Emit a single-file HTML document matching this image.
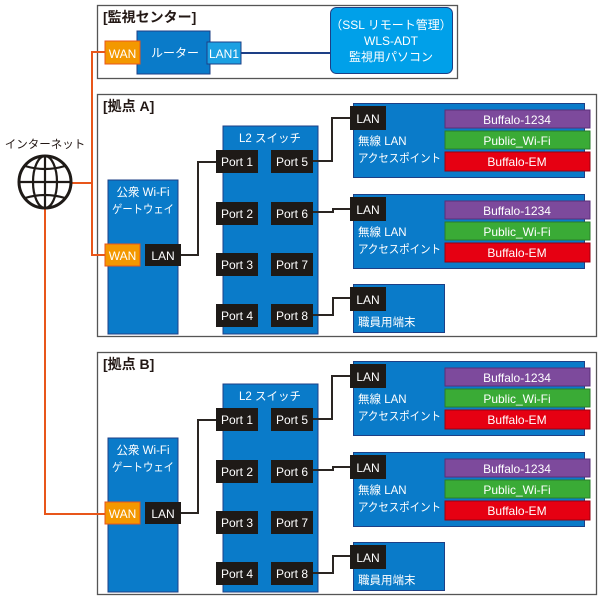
<!DOCTYPE html>
<html><head><meta charset="utf-8"><style>
html,body{margin:0;padding:0;background:#fff;}
svg{display:block;}
text{font-family:"Liberation Sans","Noto Sans CJK JP",sans-serif;}
</style></head><body>
<svg width="600" height="600" viewBox="0 0 600 600" xmlns="http://www.w3.org/2000/svg">
<defs>
<g id="site">
  <rect x="97.5" y="94.5" width="499" height="242" fill="#fff" stroke="#555" stroke-width="1.3"/>
  <rect x="108" y="180" width="70" height="154" fill="#0a7bc9" stroke="#1d3f86" stroke-width="1"/>
  <text x="143" y="196" font-size="11.5" fill="#fff" text-anchor="middle">公衆 Wi-Fi</text>
  <text x="143" y="213" font-size="11.5" fill="#fff" text-anchor="middle" textLength="62" lengthAdjust="spacingAndGlyphs">ゲートウェイ</text>
  <rect x="105" y="244" width="35" height="22" fill="#f39800" stroke="#e8561a" stroke-width="1"/>
  <text x="122.5" y="260" font-size="12" fill="#fff" text-anchor="middle">WAN</text>
  <rect x="145" y="244" width="36" height="22" fill="#1e1a17"/>
  <text x="163" y="260" font-size="12" fill="#fff" text-anchor="middle">LAN</text>
  <rect x="223" y="126" width="95" height="208" fill="#0a7bc9" stroke="#1d3f86" stroke-width="1"/>
  <text x="270" y="142" font-size="11.5" fill="#fff" text-anchor="middle">L2 スイッチ</text>
  <g font-size="12" fill="#fff" text-anchor="middle">
    <rect x="216" y="150" width="42" height="23" fill="#1e1a17"/><text x="237" y="166" fill="#fff">Port 1</text>
    <rect x="271" y="150" width="42" height="23" fill="#1e1a17"/><text x="292" y="166" fill="#fff">Port 5</text>
    <rect x="216" y="202" width="42" height="23" fill="#1e1a17"/><text x="237" y="218" fill="#fff">Port 2</text>
    <rect x="271" y="202" width="42" height="23" fill="#1e1a17"/><text x="292" y="218" fill="#fff">Port 6</text>
    <rect x="216" y="253" width="42" height="23" fill="#1e1a17"/><text x="237" y="269" fill="#fff">Port 3</text>
    <rect x="271" y="253" width="42" height="23" fill="#1e1a17"/><text x="292" y="269" fill="#fff">Port 7</text>
    <rect x="216" y="304" width="42" height="23" fill="#1e1a17"/><text x="237" y="320" fill="#fff">Port 4</text>
    <rect x="271" y="304" width="42" height="23" fill="#1e1a17"/><text x="292" y="320" fill="#fff">Port 8</text>
  </g>
  <g fill="none" stroke="#2a2522" stroke-width="2">
    <polyline points="181,255 198,255 198,162 216,162"/>
    <polyline points="313,161 332,161 332,118 351,118"/>
    <polyline points="313,212 333,212 333,209 351,209"/>
    <polyline points="313,315 333,315 333,298 351,298"/>
  </g>
  <rect x="353.5" y="103.5" width="231" height="74" fill="#0a7bc9" stroke="#1d3f86" stroke-width="1"/>
  <rect x="350" y="106" width="36" height="24" fill="#1e1a17"/>
  <text x="368" y="123" font-size="12" fill="#fff" text-anchor="middle">LAN</text>
  <text x="358" y="145" font-size="11.5" fill="#fff">無線 LAN</text>
  <text x="358" y="162" font-size="11.5" fill="#fff" textLength="83" lengthAdjust="spacingAndGlyphs">アクセスポイント</text>
  <rect x="445" y="110" width="145" height="18" fill="#7d4a9c" stroke="#5a2f78"/>
  <text x="517" y="124" font-size="12" fill="#fff" text-anchor="middle">Buffalo-1234</text>
  <rect x="445" y="131" width="145" height="18" fill="#3aab36" stroke="#2a7d2a"/>
  <text x="517" y="145" font-size="12" fill="#fff" text-anchor="middle">Public_Wi-Fi</text>
  <rect x="445" y="152" width="145" height="19" fill="#e60012" stroke="#9b0010"/>
  <text x="517" y="166" font-size="12" fill="#fff" text-anchor="middle">Buffalo-EM</text>
  <rect x="353.5" y="194.5" width="231" height="74" fill="#0a7bc9" stroke="#1d3f86" stroke-width="1"/>
  <rect x="350" y="197" width="36" height="24" fill="#1e1a17"/>
  <text x="368" y="214" font-size="12" fill="#fff" text-anchor="middle">LAN</text>
  <text x="358" y="236" font-size="11.5" fill="#fff">無線 LAN</text>
  <text x="358" y="253" font-size="11.5" fill="#fff" textLength="83" lengthAdjust="spacingAndGlyphs">アクセスポイント</text>
  <rect x="445" y="201" width="145" height="18" fill="#7d4a9c" stroke="#5a2f78"/>
  <text x="517" y="215" font-size="12" fill="#fff" text-anchor="middle">Buffalo-1234</text>
  <rect x="445" y="222" width="145" height="18" fill="#3aab36" stroke="#2a7d2a"/>
  <text x="517" y="236" font-size="12" fill="#fff" text-anchor="middle">Public_Wi-Fi</text>
  <rect x="445" y="243" width="145" height="19" fill="#e60012" stroke="#9b0010"/>
  <text x="517" y="257" font-size="12" fill="#fff" text-anchor="middle">Buffalo-EM</text>
  <rect x="353.5" y="284.5" width="91" height="48" fill="#0a7bc9" stroke="#1d3f86" stroke-width="1"/>
  <rect x="350" y="287" width="36" height="24" fill="#1e1a17"/>
  <text x="368" y="304" font-size="12" fill="#fff" text-anchor="middle">LAN</text>
  <text x="358" y="326" font-size="11.5" fill="#fff">職員用端末</text>
</g>
</defs>

<rect x="97.5" y="5.5" width="360" height="73" fill="#fff" stroke="#555" stroke-width="1.3"/>
<text x="103" y="22" font-size="14" font-weight="bold" fill="#231815">[監視センター]</text>
<rect x="137" y="31" width="73" height="43" fill="#0a7bc9" stroke="#1d3f86"/>
<text x="175" y="57" font-size="12" fill="#fff" text-anchor="middle">ルーター</text>
<rect x="105" y="41" width="35" height="23" fill="#f39800" stroke="#e8561a"/>
<text x="122.5" y="58" font-size="12" fill="#fff" text-anchor="middle">WAN</text>
<rect x="207" y="42" width="34" height="22" fill="#1ba0e2" stroke="#1d3f86"/>
<text x="224" y="58" font-size="12" fill="#fff" text-anchor="middle">LAN1</text>
<line x1="241" y1="53" x2="331" y2="53" stroke="#1d3f86" stroke-width="2"/>
<rect x="330.5" y="7.5" width="122" height="66" rx="6" fill="#00a0e9" stroke="#1d3f86"/>
<text x="391" y="29" font-size="12" fill="#fff" text-anchor="middle">（SSL リモート管理）</text>
<text x="391" y="45" font-size="12" fill="#fff" text-anchor="middle">WLS-ADT</text>
<text x="391" y="61" font-size="12" fill="#fff" text-anchor="middle">監視用パソコン</text>

<use href="#site"/>
<use href="#site" transform="translate(0,258)"/>
<text x="103" y="111" font-size="14" font-weight="bold" fill="#231815">[拠点 A]</text>
<text x="103" y="369" font-size="14" font-weight="bold" fill="#231815">[拠点 B]</text>

<g fill="none" stroke="#e8561a" stroke-width="2">
  <polyline points="105,52 92,52 92,255 105,255"/>
  <line x1="72" y1="183" x2="92" y2="183"/>
  <polyline points="45,205 45,514 105,514"/>
</g>
<text x="45" y="148" font-size="11.5" fill="#231815" text-anchor="middle">インターネット</text>
<g fill="none" stroke="#1e1a17" stroke-width="2.2">
  <circle cx="45" cy="182" r="26" fill="#fff" stroke-width="3"/>
  <ellipse cx="45" cy="182" rx="12" ry="26"/>
  <line x1="45" y1="156" x2="45" y2="208"/>
  <line x1="19" y1="182" x2="71" y2="182"/>
  <path d="M25 166 Q45 172 65 166"/>
  <path d="M25 198 Q45 192 65 198"/>
</g>
</svg>
</body></html>
